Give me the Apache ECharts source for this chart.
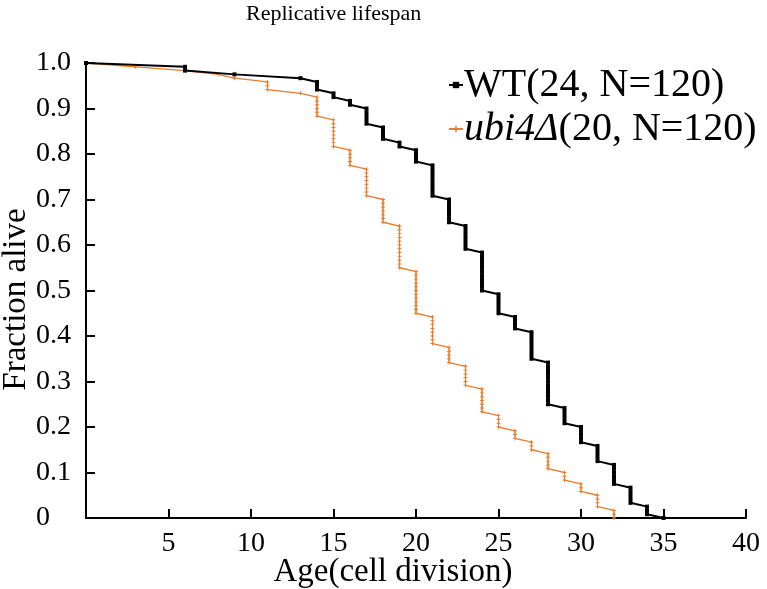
<!DOCTYPE html>
<html>
<head>
<meta charset="utf-8">
<script src="https://cdn.jsdelivr.net/npm/echarts@6/dist/echarts.min.js"></script>
<style>html,body{margin:0;padding:0;background:#fff;}#c{width:767px;height:589px;}</style>
</head>
<body>
<div id="c"></div>
<script>
// Cohort size
const N = 120;
// WT: ages at which deaths occurred and number of deaths at each age
const wtAges   = [6, 9, 13, 14, 15, 16, 17, 18, 19, 20, 21, 22, 23, 24, 25, 26, 27, 28, 29, 30, 31, 32, 33, 34, 35];
const wtDeaths = [2, 1, 1, 3, 2, 2, 5, 4, 2, 4, 9, 7, 7, 11, 6, 4, 8, 12, 5, 5, 5, 6, 5, 3, 1];
// ubi4Δ
const ubAges   = [3, 6, 8, 9, 11, 13, 14, 15, 16, 17, 18, 19, 20, 21, 22, 23, 24, 25, 26, 27, 28, 29, 30, 31, 32];
const ubDeaths = [1, 1, 1, 1, 3, 1, 6, 8, 5, 8, 7, 12, 12, 8, 5, 6, 7, 4, 3, 3, 5, 3, 3, 4, 3];
// Labels
const seriesNames = ['WT', 'ubi4Δ'];
const legendMedian = [24, 20];
const xTicks = [0, 5, 10, 15, 20, 25, 30, 35, 40];
const yTicks = [0, 0.1, 0.2, 0.3, 0.4, 0.5, 0.6, 0.7, 0.8, 0.9, 1.0];

function survival(ages, deaths) {
  const pts = [[0, 1]];
  let alive = N;
  ages.forEach((a, i) => {
    for (let j = 0; j < deaths[i]; j++) {
      alive -= 1;
      pts.push([a, alive / N]);
    }
  });
  return pts;
}

const FONT = '"Liberation Serif", "Times New Roman", serif';
const chart = echarts.init(document.getElementById('c'), null, {renderer: 'canvas'});
const plusPath = 'path://M0.38,0H0.62V0.38H1V0.62H0.62V1H0.38V0.62H0V0.38H0.38Z';

chart.setOption({
  animation: false,
  backgroundColor: '#fff',
  title: {
    text: 'Replicative lifespan',
    left: 241, top: -2,
    textStyle: {fontFamily: FONT, fontSize: 22, fontWeight: 'normal', color: '#000'}
  },
  legend: {
    orient: 'vertical',
    left: 443, top: 60,
    itemGap: 4,
    itemWidth: 14, itemHeight: 8,
    data: seriesNames,
    formatter: function (name) {
      const i = seriesNames.indexOf(name);
      const tail = '(' + legendMedian[i] + ', N=' + N + ')';
      return i === 0 ? '{n|' + name + tail + '}' : '{it|' + name + '}{n|' + tail + '}';
    },
    textStyle: {
      fontFamily: FONT, fontSize: 40, color: '#000', padding: [0, 0, 0, -4],
      rich: {
        n: {fontFamily: FONT, fontSize: 40, color: '#000'},
        it: {fontFamily: FONT, fontSize: 40, color: '#000', fontStyle: 'italic'}
      }
    }
  },
  grid: {left: 86, right: 21, top: 63, bottom: 71, containLabel: false, outerBoundsMode: 'none'},
  xAxis: {
    type: 'value', min: 0, max: 40, interval: 5,
    name: 'Age(cell division)', nameLocation: 'middle', nameGap: 38, nameMoveOverlap: false,
    nameTextStyle: {fontFamily: FONT, fontSize: 33, color: '#000', padding: [0, 46, 0, 0]},
    axisLine: {show: true, onZero: false, lineStyle: {color: '#000', width: 2}},
    axisTick: {show: true, inside: true, length: 9, lineStyle: {color: '#000', width: 2}},
    axisLabel: {fontFamily: FONT, fontSize: 28, color: '#000', margin: 12, showMinLabel: false,
      formatter: v => (v === 0 ? '' : String(v))},
    splitLine: {show: false}
  },
  yAxis: {
    type: 'value', min: 0, max: 1, interval: 0.1,
    name: 'Fraction alive', nameLocation: 'middle', nameGap: 53, nameMoveOverlap: false,
    nameTextStyle: {fontFamily: FONT, fontSize: 33, color: '#000', padding: [0, 18, 0, 0]},
    axisLine: {show: true, lineStyle: {color: '#000', width: 2}},
    axisTick: {show: true, inside: true, length: 9, lineStyle: {color: '#000', width: 2}},
    axisLabel: {fontFamily: FONT, fontSize: 28, color: '#000', margin: 50, align: 'left',
      formatter: v => (v === 0 ? '0' : v.toFixed(1))},
    splitLine: {show: false}
  },
  series: [
    {
      name: seriesNames[0], type: 'line', data: survival(wtAges, wtDeaths),
      showSymbol: true, showAllSymbol: true, symbol: 'rect', symbolSize: 4,
      itemStyle: {color: '#000'},
      lineStyle: {color: '#000', width: 2},
      z: 3
    },
    {
      name: seriesNames[1], type: 'line', data: survival(ubAges, ubDeaths),
      showSymbol: true, showAllSymbol: true, symbol: plusPath, symbolSize: 4,
      itemStyle: {color: '#EC7B2C'},
      lineStyle: {color: '#EC7B2C', width: 1.3},
      z: 2
    }
  ]
});
</script>
</body>
</html>
